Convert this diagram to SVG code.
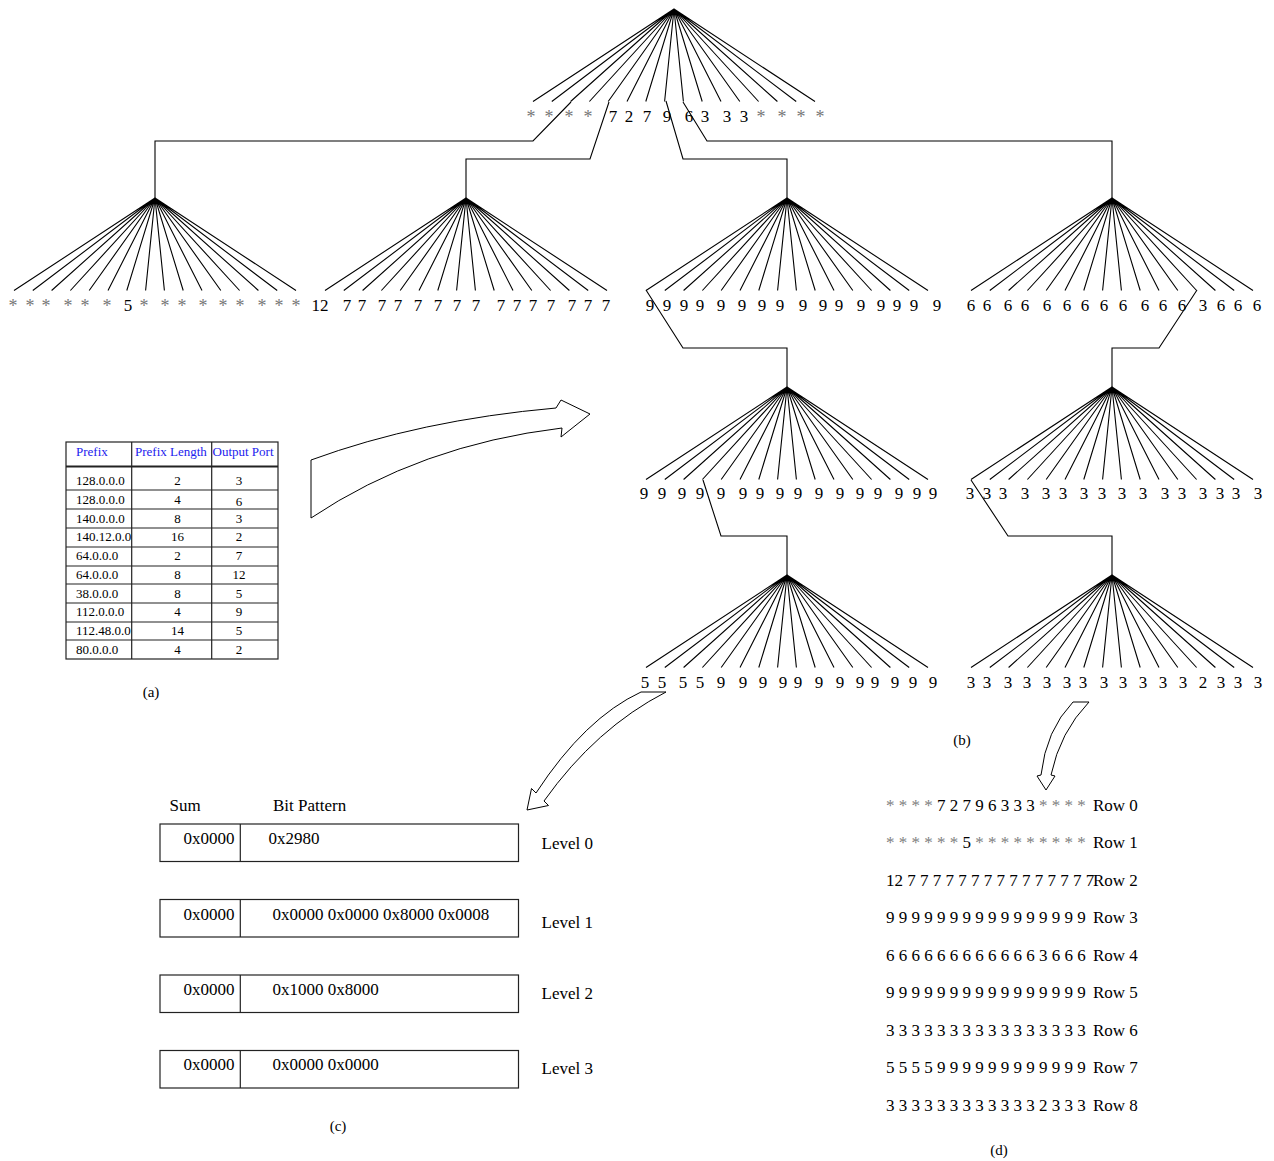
<svg xmlns="http://www.w3.org/2000/svg" xmlns:xlink="http://www.w3.org/1999/xlink" width="1274" height="1161" viewBox="0 0 1274 1161">
<style>
text{font-family:"Liberation Serif","Times New Roman",serif;fill:#000}
.l{font-size:17px;text-anchor:middle}
.a{font-size:18px;text-anchor:middle;fill:#777}
.g{fill:#808080}
.t{font-size:13px}
.tc{font-size:13px;text-anchor:middle}
.h{font-size:13px;fill:#2222ee}
.r{font-size:17px}
.cap{font-size:15px;text-anchor:middle}
.ln{fill:none;stroke:#000;stroke-width:1.1}
.bx{fill:none;stroke:#222;stroke-width:1.2}
.arr{fill:#fff;stroke:#000;stroke-width:1}
</style>
<defs>
<path id="fan" class="ln" d="M0,0 L-141,92.5 M0,0 L-122.2,92.5 M0,0 L-103.4,92.5 M0,0 L-84.6,92.5 M0,0 L-65.8,92.5 M0,0 L-47,92.5 M0,0 L-28.2,92.5 M0,0 L-9.4,92.5 M0,0 L9.4,92.5 M0,0 L28.2,92.5 M0,0 L47,92.5 M0,0 L65.8,92.5 M0,0 L84.6,92.5 M0,0 L103.4,92.5 M0,0 L122.2,92.5 M0,0 L141,92.5"/>
</defs>
<rect width="1274" height="1161" fill="#fff"/>

<g id="connectors" class="ln">
<path d="M155,198 V141 H533 L571,102"/>
<path d="M466,198 V159 H590 L609,102"/>
<path d="M787,198 V159 H683 L666,101"/>
<path d="M1112,198 V141 H707 L683,102"/>
<path d="M787,387 V348 H683 L646,290"/>
<path d="M1112,387 V348 H1159 L1197,290"/>
<path d="M787,575 V536 H721 L703,480"/>
<path d="M1112,575 V536 H1008 L971,480"/>
</g>

<g id="node-root">
<use xlink:href="#fan" x="674" y="9"/>
<text class="a" x="531" y="123">*</text><text class="a" x="549" y="123">*</text><text class="a" x="569" y="123">*</text><text class="a" x="588" y="123">*</text>
<text class="l" x="613" y="122">7</text><text class="l" x="629" y="122">2</text><text class="l" x="647" y="122">7</text><text class="l" x="667" y="122">9</text>
<text class="l" x="689" y="122">6</text><text class="l" x="705" y="122">3</text><text class="l" x="727" y="122">3</text><text class="l" x="744" y="122">3</text>
<text class="a" x="761" y="123">*</text><text class="a" x="782" y="123">*</text><text class="a" x="801" y="123">*</text><text class="a" x="820" y="123">*</text>
</g>

<g id="node-l1-a">
<use xlink:href="#fan" x="155" y="198"/>
<text class="a" x="13" y="312">*</text><text class="a" x="30" y="312">*</text><text class="a" x="46" y="312">*</text><text class="a" x="68" y="312">*</text>
<text class="a" x="85" y="312">*</text><text class="a" x="107" y="312">*</text><text class="l" x="128" y="311">5</text><text class="a" x="144" y="312">*</text>
<text class="a" x="165" y="312">*</text><text class="a" x="182" y="312">*</text><text class="a" x="203" y="312">*</text><text class="a" x="223" y="312">*</text>
<text class="a" x="240" y="312">*</text><text class="a" x="262" y="312">*</text><text class="a" x="279" y="312">*</text><text class="a" x="296" y="312">*</text>
</g>

<g id="node-l1-b">
<use xlink:href="#fan" x="466" y="198"/>
<text class="l" x="320" y="311">12</text><text class="l" x="347" y="311">7</text><text class="l" x="362" y="311">7</text><text class="l" x="382" y="311">7</text>
<text class="l" x="398" y="311">7</text><text class="l" x="418" y="311">7</text><text class="l" x="438" y="311">7</text><text class="l" x="457" y="311">7</text>
<text class="l" x="476" y="311">7</text><text class="l" x="501" y="311">7</text><text class="l" x="517" y="311">7</text><text class="l" x="533" y="311">7</text>
<text class="l" x="551" y="311">7</text><text class="l" x="572" y="311">7</text><text class="l" x="588" y="311">7</text><text class="l" x="606" y="311">7</text>
</g>

<g id="node-l1-c">
<use xlink:href="#fan" x="787" y="198"/>
<text class="l" x="650" y="311">9</text><text class="l" x="667" y="311">9</text><text class="l" x="684" y="311">9</text><text class="l" x="700" y="311">9</text>
<text class="l" x="721" y="311">9</text><text class="l" x="742" y="311">9</text><text class="l" x="762" y="311">9</text><text class="l" x="780" y="311">9</text>
<text class="l" x="803" y="311">9</text><text class="l" x="823" y="311">9</text><text class="l" x="839" y="311">9</text><text class="l" x="861" y="311">9</text>
<text class="l" x="881" y="311">9</text><text class="l" x="897" y="311">9</text><text class="l" x="914" y="311">9</text><text class="l" x="937" y="311">9</text>
</g>

<g id="node-l1-d">
<use xlink:href="#fan" x="1112" y="198"/>
<text class="l" x="971" y="311">6</text><text class="l" x="987" y="311">6</text><text class="l" x="1008" y="311">6</text><text class="l" x="1025" y="311">6</text>
<text class="l" x="1047" y="311">6</text><text class="l" x="1067" y="311">6</text><text class="l" x="1085" y="311">6</text><text class="l" x="1104" y="311">6</text>
<text class="l" x="1123" y="311">6</text><text class="l" x="1145" y="311">6</text><text class="l" x="1163" y="311">6</text><text class="l" x="1182" y="311">6</text>
<text class="l" x="1203" y="311">3</text><text class="l" x="1221" y="311">6</text><text class="l" x="1238" y="311">6</text><text class="l" x="1257" y="311">6</text>
</g>

<g id="node-l2-c">
<use xlink:href="#fan" x="787" y="387"/>
<text class="l" x="644" y="499">9</text><text class="l" x="662" y="499">9</text><text class="l" x="682" y="499">9</text><text class="l" x="700" y="499">9</text>
<text class="l" x="721" y="499">9</text><text class="l" x="743" y="499">9</text><text class="l" x="760" y="499">9</text><text class="l" x="780" y="499">9</text>
<text class="l" x="798" y="499">9</text><text class="l" x="819" y="499">9</text><text class="l" x="840" y="499">9</text><text class="l" x="860" y="499">9</text>
<text class="l" x="878" y="499">9</text><text class="l" x="899" y="499">9</text><text class="l" x="917" y="499">9</text><text class="l" x="933" y="499">9</text>
</g>

<g id="node-l2-d">
<use xlink:href="#fan" x="1112" y="387"/>
<text class="l" x="970" y="499">3</text><text class="l" x="987" y="499">3</text><text class="l" x="1003" y="499">3</text><text class="l" x="1025" y="499">3</text>
<text class="l" x="1046" y="499">3</text><text class="l" x="1063" y="499">3</text><text class="l" x="1084" y="499">3</text><text class="l" x="1102" y="499">3</text>
<text class="l" x="1122" y="499">3</text><text class="l" x="1143" y="499">3</text><text class="l" x="1165" y="499">3</text><text class="l" x="1182" y="499">3</text>
<text class="l" x="1203" y="499">3</text><text class="l" x="1220" y="499">3</text><text class="l" x="1236" y="499">3</text><text class="l" x="1258" y="499">3</text>
</g>

<g id="node-l3-c">
<use xlink:href="#fan" x="787" y="575"/>
<text class="l" x="645" y="688">5</text><text class="l" x="662" y="688">5</text><text class="l" x="683" y="688">5</text><text class="l" x="700" y="688">5</text>
<text class="l" x="721" y="688">9</text><text class="l" x="743" y="688">9</text><text class="l" x="763" y="688">9</text><text class="l" x="783" y="688">9</text>
<text class="l" x="798" y="688">9</text><text class="l" x="819" y="688">9</text><text class="l" x="840" y="688">9</text><text class="l" x="860" y="688">9</text>
<text class="l" x="875" y="688">9</text><text class="l" x="895" y="688">9</text><text class="l" x="913" y="688">9</text><text class="l" x="933" y="688">9</text>
</g>

<g id="node-l3-d">
<use xlink:href="#fan" x="1112" y="575"/>
<text class="l" x="971" y="688">3</text><text class="l" x="987" y="688">3</text><text class="l" x="1008" y="688">3</text><text class="l" x="1027" y="688">3</text>
<text class="l" x="1047" y="688">3</text><text class="l" x="1067" y="688">3</text><text class="l" x="1083" y="688">3</text><text class="l" x="1104" y="688">3</text>
<text class="l" x="1123" y="688">3</text><text class="l" x="1143" y="688">3</text><text class="l" x="1163" y="688">3</text><text class="l" x="1183" y="688">3</text>
<text class="l" x="1203" y="688">2</text><text class="l" x="1221" y="688">3</text><text class="l" x="1238" y="688">3</text><text class="l" x="1258" y="688">3</text>
</g>

<g id="arrows">
<path class="arr" d="M311,460 Q420,420 556,408 L561,400 L590,414 L561,437 L562,428 Q420,445 311,518 Z"/>
<path class="arr" d="M641,692 L666,692 Q596,728 544,801 L548.5,805.5 L527,810 L531.5,788.5 L536,793 Q585,718 641,692 Z"/>
<path class="arr" d="M1073,702 L1089,702 Q1060,732 1051,775 L1055,776 L1046,790 L1037,776 L1041,775 Q1046,730 1073,702 Z"/>
</g>

<g id="table-a">
<rect class="bx" x="66" y="442" width="212" height="217"/>
<path class="bx" d="M131.7,442 V659 M211.7,442 V659 M66,490 H278 M66,509 H278 M66,528 H278 M66,547 H278 M66,566 H278 M66,584 H278 M66,603 H278 M66,622 H278 M66,640 H278"/>
<path d="M66,466.5 H278" stroke="#222" stroke-width="1.8"/>
<text class="h" x="76" y="456">Prefix</text>
<text class="h" x="135" y="456">Prefix Length</text>
<text class="h" x="212.5" y="456">Output Port</text>
<text class="t" x="76" y="484.5">128.0.0.0</text><text class="tc" x="177.5" y="484.5">2</text><text class="tc" x="239" y="484.5">3</text>
<text class="t" x="76" y="503.5">128.0.0.0</text><text class="tc" x="177.5" y="503.5">4</text><text class="tc" x="239" y="505.5">6</text>
<text class="t" x="76" y="522.5">140.0.0.0</text><text class="tc" x="177.5" y="522.5">8</text><text class="tc" x="239" y="522.5">3</text>
<text class="t" x="76" y="541">140.12.0.0</text><text class="tc" x="177.5" y="541">16</text><text class="tc" x="239" y="541">2</text>
<text class="t" x="76" y="559.5">64.0.0.0</text><text class="tc" x="177.5" y="559.5">2</text><text class="tc" x="239" y="559.5">7</text>
<text class="t" x="76" y="578.5">64.0.0.0</text><text class="tc" x="177.5" y="578.5">8</text><text class="tc" x="239" y="578.5">12</text>
<text class="t" x="76" y="597.5">38.0.0.0</text><text class="tc" x="177.5" y="597.5">8</text><text class="tc" x="239" y="597.5">5</text>
<text class="t" x="76" y="616">112.0.0.0</text><text class="tc" x="177.5" y="616">4</text><text class="tc" x="239" y="616">9</text>
<text class="t" x="76" y="635">112.48.0.0</text><text class="tc" x="177.5" y="635">14</text><text class="tc" x="239" y="635">5</text>
<text class="t" x="76" y="654">80.0.0.0</text><text class="tc" x="177.5" y="654">4</text><text class="tc" x="239" y="654">2</text>
</g>

<g id="table-c">
<text class="r" x="169.5" y="810.5">Sum</text>
<text class="r" x="273" y="810.5">Bit Pattern</text>
<rect class="bx" x="160" y="824" width="358.5" height="37.5"/><path class="bx" d="M240.3,824 V861.5"/>
<rect class="bx" x="160" y="899.5" width="358.5" height="37.5"/><path class="bx" d="M240.3,899.5 V937"/>
<rect class="bx" x="160" y="975" width="358.5" height="37.5"/><path class="bx" d="M240.3,975 V1012.5"/>
<rect class="bx" x="160" y="1050.5" width="358.5" height="37.5"/><path class="bx" d="M240.3,1050.5 V1088"/>
<text class="r" x="183.5" y="843.5">0x0000</text><text class="r" x="268.5" y="843.5">0x2980</text>
<text class="r" x="183.5" y="919.5">0x0000</text><text class="r" x="272.5" y="919.5">0x0000 0x0000 0x8000 0x0008</text>
<text class="r" x="183.5" y="994.5">0x0000</text><text class="r" x="272.5" y="994.5">0x1000 0x8000</text>
<text class="r" x="183.5" y="1069.5">0x0000</text><text class="r" x="272.5" y="1069.5">0x0000 0x0000</text>
<text class="r" x="541.5" y="848.5">Level 0</text>
<text class="r" x="541.5" y="928">Level 1</text>
<text class="r" x="541.5" y="999">Level 2</text>
<text class="r" x="541.5" y="1074">Level 3</text>
</g>

<g id="rows-d">
<text class="r" x="886" y="810.5"><tspan class="g">* * * *</tspan> 7 2 7 9 6 3 3 3 <tspan class="g">* * * *</tspan></text><text class="r" x="1093" y="810.5">Row 0</text>
<text class="r" x="886" y="848"><tspan class="g">* * * * * *</tspan> 5 <tspan class="g">* * * * * * * * *</tspan></text><text class="r" x="1093" y="848">Row 1</text>
<text class="r" x="886" y="885.5">12 7 7 7 7 7 7 7 7 7 7 7 7 7 7 7</text><text class="r" x="1093" y="885.5">Row 2</text>
<text class="r" x="886" y="923">9 9 9 9 9 9 9 9 9 9 9 9 9 9 9 9</text><text class="r" x="1093" y="923">Row 3</text>
<text class="r" x="886" y="960.5">6 6 6 6 6 6 6 6 6 6 6 6 3 6 6 6</text><text class="r" x="1093" y="960.5">Row 4</text>
<text class="r" x="886" y="998">9 9 9 9 9 9 9 9 9 9 9 9 9 9 9 9</text><text class="r" x="1093" y="998">Row 5</text>
<text class="r" x="886" y="1035.5">3 3 3 3 3 3 3 3 3 3 3 3 3 3 3 3</text><text class="r" x="1093" y="1035.5">Row 6</text>
<text class="r" x="886" y="1073">5 5 5 5 9 9 9 9 9 9 9 9 9 9 9 9</text><text class="r" x="1093" y="1073">Row 7</text>
<text class="r" x="886" y="1110.5">3 3 3 3 3 3 3 3 3 3 3 3 2 3 3 3</text><text class="r" x="1093" y="1110.5">Row 8</text>
</g>

<g id="captions">
<text class="cap" x="151" y="697">(a)</text>
<text class="cap" x="962" y="745">(b)</text>
<text class="cap" x="338" y="1131">(c)</text>
<text class="cap" x="999" y="1155">(d)</text>
</g>
</svg>
